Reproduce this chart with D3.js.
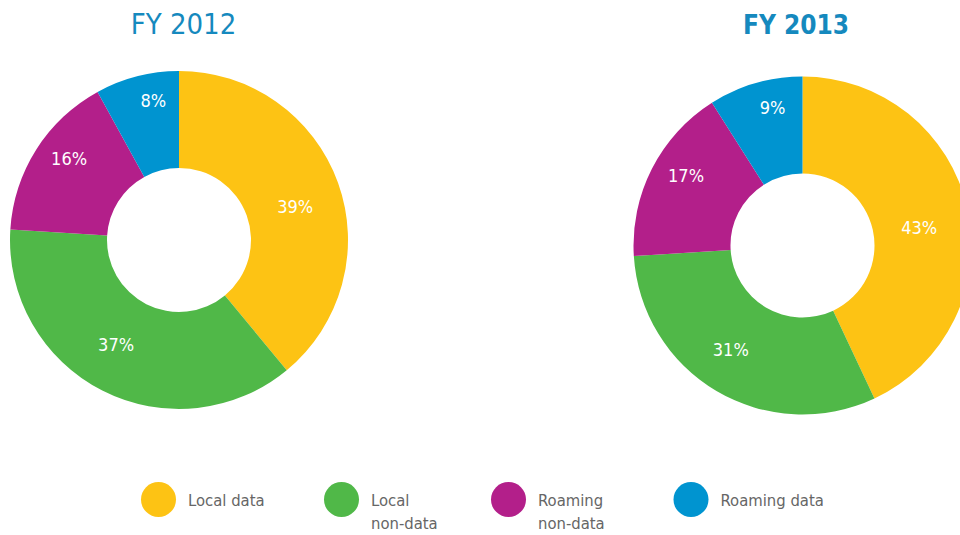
<!DOCTYPE html>
<html><head><meta charset="utf-8">
<script src="https://cdn.jsdelivr.net/npm/d3@7"></script>
<style>
body{margin:0;background:#fff;}
svg{display:block;}
text{font-family:"DejaVu Sans Condensed","Liberation Sans Narrow","Open Sans",sans-serif;}
</style></head>
<body>
<svg id="chart" width="960" height="535"></svg>
<script>
const categories = ["Local data", "Local non-data", "Roaming non-data", "Roaming data"];
const legendLabels = [["Local data"], ["Local", "non-data"], ["Roaming", "non-data"], ["Roaming data"]];
const years = ["FY 2012", "FY 2013"];
const values2012 = [39, 37, 16, 8];
const values2013 = [43, 31, 17, 9];
const colors = ["#FDC314", "#50B848", "#B31F8A", "#0094D0"];

const svg = d3.select("#chart");
const color = d3.scaleOrdinal().domain(categories).range(colors);

const pies = [
  {title: years[0], values: values2012, cx: 179, cy: 240, weight: "normal", tx: 183.5, fs: 29},
  {title: years[1], values: values2013, cx: 802.5, cy: 245.5, weight: "bold", tx: 796, fs: 26}
];
const outerR = 169, innerR = 72;
const pie = d3.pie().sort(null).value(d => d.v);
const arc = d3.arc().innerRadius(innerR).outerRadius(outerR);
const labelR = d3.scaleLinear().domain([8, 43]).range([142, 118]).clamp(true);
const labelShift = 4 * Math.PI / 180;

pies.forEach(p => {
  const g = svg.append("g").attr("transform", `translate(${p.cx},${p.cy})`);
  const data = pie(p.values.map((v, i) => ({v, c: categories[i]})));
  g.selectAll("path").data(data).join("path")
    .attr("d", arc).attr("fill", d => color(d.data.c));
  g.selectAll("text.lbl").data(data).join("text").attr("class", "lbl")
    .attr("transform", d => {
      const r = labelR(d.data.v);
      const a = (d.startAngle + d.endAngle) / 2 + labelShift;
      return `translate(${r * Math.sin(a)},${-r * Math.cos(a)})`;
    })
    .attr("text-anchor", "middle").attr("dy", "0.35em")
    .attr("fill", "#fff").attr("font-size", 18)
    .text(d => d.data.v + "%");
  svg.append("text").attr("x", p.tx).attr("y", 34)
    .attr("text-anchor", "middle").attr("fill", "#1589BE")
    .attr("font-size", p.fs).attr("font-weight", p.weight)
    .text(p.title);
});

const lx = d3.scaleOrdinal().domain(categories).range([158.5, 341.5, 508.5, 691]);
const lg = svg.selectAll("g.leg").data(categories).join("g").attr("class", "leg")
  .attr("transform", d => `translate(${lx(d)},499.5)`);
lg.append("circle").attr("r", 17.5).attr("fill", d => color(d));
lg.each(function(d, i) {
  const t = d3.select(this).append("text").attr("x", 29.5).attr("y", 6)
    .attr("fill", "#666").attr("font-size", 16.5);
  legendLabels[i].forEach((line, j) => {
    t.append("tspan").attr("x", 29.5).attr("dy", j === 0 ? 0 : 23).text(line);
  });
});
</script>
</body></html>
